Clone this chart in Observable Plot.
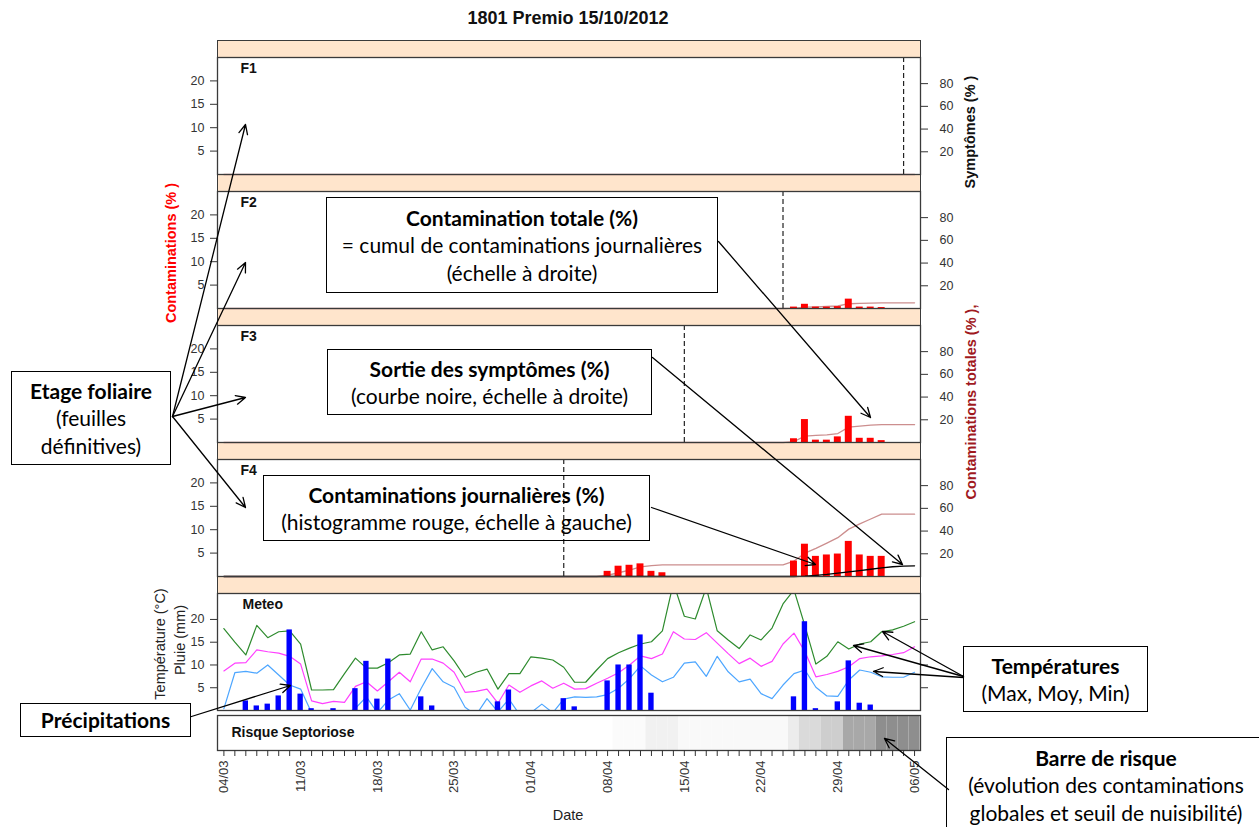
<!DOCTYPE html>
<html lang="fr">
<head>
<meta charset="utf-8">
<script src="https://cdn.jsdelivr.net/npm/d3@7"></script>
<script src="https://cdn.jsdelivr.net/npm/@observablehq/plot@0.6"></script>
<style>
html,body{margin:0;padding:0;background:#fff;}
#root{position:relative;width:1259px;height:827px;overflow:hidden;font-family:"Liberation Sans",Arial,sans-serif;color:#222;}
.pl{position:absolute;left:0;}
.strip{position:absolute;left:217px;width:704px;height:18px;background:#ffe5cc;border:1.3px solid #3a3a3a;box-sizing:border-box;}
.vlab{position:absolute;white-space:nowrap;transform:translate(-50%,-50%) rotate(-90deg);font-size:14.5px;}
.box{position:absolute;border:1.5px solid #000;box-sizing:border-box;display:flex;flex-direction:column;justify-content:center;align-items:center;font-family:Lato,"Open Sans",sans-serif;font-size:21px;line-height:27.5px;color:#000;text-align:center;white-space:nowrap;}
</style>
</head>
<body>
<div id="root"></div>
<script>
// ---------------- DATA ----------------
const title = "1801 Premio 15/10/2012";
const firstDay = "2012-03-04";
const lastDayExclusive = "2012-05-07";
const panelNames = ["F1", "F2", "F3", "F4"];
const leafDates = ["2012-05-05", "2012-04-24", "2012-04-15", "2012-04-04"];

// daily contaminations (%), one value per day from 04/03 to 06/05
const contF1 = [
  0,0,0,0, 0,0,0,0, 0,0,0,0, 0,0,0,0,
  0,0,0,0, 0,0,0,0, 0,0,0,0, 0,0,0,0,
  0,0,0,0, 0,0,0,0, 0,0,0,0, 0,0,0,0,
  0,0,0,0, 0,0,0,0, 0,0,0,0, 0,0,0,0];
const contF2 = [
  0,0,0,0, 0,0,0,0, 0,0,0,0, 0,0,0,0,
  0,0,0,0, 0,0,0,0, 0,0,0,0, 0,0,0,0,
  0,0,0,0, 0,0,0,0, 0,0,0,0, 0,0,0,0,
  0,0,0,0, 0.3,0.9,0.3,0.3, 0.4,2.0,0.3,0.3, 0.2,0,0,0];
const contF3 = [
  0,0,0,0, 0,0,0,0, 0,0,0,0, 0,0,0,0,
  0,0,0,0, 0,0,0,0, 0,0,0,0, 0,0,0,0,
  0,0,0,0, 0,0,0,0, 0,0,0,0, 0,0,0,0,
  0,0,0,0, 0.8,4.9,0.5,0.5, 1.2,5.6,0.9,0.9, 0.4,0,0,0];
const contF4 = [
  0,0,0,0, 0,0,0,0, 0,0,0,0, 0,0,0,0,
  0,0,0,0, 0,0,0,0, 0,0,0,0, 0,0,0,0,
  0,0,0,1.1, 2.2,2.4,2.7,1.1, 0.8,0,0,0, 0,0,0,0,
  0,0,0,0, 3.3,6.9,4.3,4.6, 4.8,7.5,4.6,4.3, 4.3,0,0,0];

// symptoms (%) — black curve, right scale (only F4 shows one)
const symptF1 = [];
const symptF2 = [];
const symptF3 = [];
const symptF4 = [
  0,0,0,0, 0,0,0,0, 0,0,0,0, 0,0,0,0,
  0,0,0,0, 0,0,0,0, 0,0,0,0, 0,0,0,0,
  0,0,0,0, 0,0,0,0, 0,0,0,0, 0,0,0,0,
  0,0,0,0, 0,0.3,1.0,1.8, 2.9,4.0,5.2,6.4, 7.6,8.6,9.2,9.4];

// meteo
const tmax = [
  18.0,15.0,12.2,18.7, 16.0,17.3,17.5,14.6, 4.5,4.5,4.6,8.1, 11.5,9.3,9.3,10.5,
  12.2,12.4,17.3,13.3, 14.0,10.9,7.3,8.4, 9.1,4.7,8.1,8.1, 11.8,11.5,11.1,9.5,
  6.2,6.2,8.9,11.4, 12.7,13.7,14.6,15.1, 17.5,28.0,20.7,20.1, 27.0,17.5,15.5,13.6,
  16.6,15.5,18.1,23.4, 26.5,18.6,10.2,11.9, 15.1,13.5,14.6,15.1, 17.3,17.7,18.5,19.5];
const tmoy = [
  8.7,10.4,10.5,13.3, 12.9,12.6,11.9,10.2, 2.1,1.5,2.0,1.8, 5.3,6.3,4.3,6.3,
  8.4,6.3,11.3,11.3, 10.4,8.4,4.0,4.2, 4.7,1.6,5.6,4.0, 5.4,6.5,4.9,6.0,
  4.7,4.8,6.0,7.1, 8.3,10.0,12.0,11.4, 12.4,17.3,15.7,15.6, 17.1,14.8,12.5,10.3,
  11.5,9.7,10.8,14.6, 17.0,12.9,7.4,7.9, 8.6,9.6,11.4,11.8, 12.0,12.3,12.7,14.0];
const tmin = [
  0.4,8.3,8.6,8.2, 10.0,7.8,5.6,4.7, -0.5,-2.0,-1.5,-1.0, 0.5,3.0,-0.5,2.3,
  3.7,0.1,4.9,9.2, 6.3,5.1,0.7,-1.0, 2.6,-0.3,2.5,-1.0, -0.5,1.4,-0.5,2.5,
  3.0,2.9,3.0,3.5, 4.9,7.0,9.8,7.8, 6.3,7.3,10.4,10.7, 7.5,11.9,8.5,6.3,
  6.9,3.7,2.6,5.6, 8.1,8.9,5.1,3.2, 3.1,6.7,8.9,8.4, 7.4,7.3,7.3,8.4];
const pluie = [
  0,0,2.1,1.0, 1.4,3.2,17.7,3.6, 0.4,0,0.4,0, 4.8,10.8,2.5,11.3,
  0,0,3.0,1.0, 0,0,0,0, 0,1.9,4.5,0, 0,0,0,2.6,
  0.8,0,0,6.5, 10.0,10.0,16.6,3.8, 0,0,0,0, 0,0,0,0,
  0,0,0,0, 3.0,19.5,0.4,0, 1.9,10.9,1.6,1.2, 0,0,0,0];
// risk bar intensity (0 = none, 1 = max)
const risque = [
  0,0,0,0, 0,0,0,0, 0,0,0,0, 0,0,0,0,
  0,0,0,0, 0,0,0,0, 0,0,0,0, 0,0,0,0,
  0,0,0,0, 0.03,0.03,0.03,0.12, 0.12,0.12,0.05,0.05, 0.05,0.05,0.05,0.05,
  0.05,0.05,0.05,0.05, 0.16,0.32,0.32,0.42, 0.42,0.74,0.74,0.74, 0.97,0.97,0.97,0.97];

// ticks
const leftTicks = [5, 10, 15, 20];
const rightTicks = [20, 40, 60, 80];
const meteoTicks = [5, 10, 15, 20];
const dateLabels = ["2012-03-04","2012-03-11","2012-03-18","2012-03-25","2012-04-01",
                    "2012-04-08","2012-04-15","2012-04-22","2012-04-29","2012-05-06"];

// annotations (PowerPoint overlay)
const boxes = [
  {x:326, y:197, w:392, h:96, lines:[["b","Contamination totale (%)"],["","= cumul de contaminations journalières"],["","(échelle à droite)"]]},
  {x:327, y:349, w:325, h:66, lines:[["b","Sortie des symptômes (%)"],["","(courbe noire, échelle à droite)"]]},
  {x:263, y:475, w:387, h:66, lines:[["b","Contaminations journalières (%)"],["","(histogramme rouge, échelle à gauche)"]]},
  {x:11,  y:371, w:160, h:94, lines:[["b","Etage foliaire"],["","(feuilles"],["","définitives)"]]},
  {x:20,  y:703, w:171, h:34, lines:[["b","Précipitations"]]},
  {x:963, y:646, w:185, h:66, lines:[["b","Températures"],["","(Max, Moy, Min)"]]},
  {x:946, y:737, w:320, h:96, lines:[["b","Barre de risque"],["","(évolution des contaminations"],["","globales et seuil de nuisibilité)"]]}
];
const arrows = [
  {x1:172, y1:416, x2:245, y2:124},
  {x1:172, y1:416, x2:245, y2:262},
  {x1:172, y1:416, x2:245, y2:397},
  {x1:172, y1:416, x2:245, y2:507},
  {x1:718, y1:241, x2:870, y2:417},
  {x1:652, y1:357, x2:902, y2:564},
  {x1:651, y1:507, x2:815, y2:564},
  {x1:191, y1:716, x2:290, y2:685},
  {x1:963, y1:676, x2:882, y2:631},
  {x1:963, y1:676, x2:853, y2:645},
  {x1:963, y1:677, x2:873, y2:671},
  {x1:948, y1:789, x2:884, y2:738}
];

// ---------------- LAYOUT ----------------
const root = document.getElementById("root");
const W = 1259, FL = 217, FR = 920;
const R = 4.12;                       // right-axis / left-axis ratio
const HALF = 12 * 3600e3;
const days = d3.utcDay.range(new Date(firstDay), new Date(lastDayExclusive));
const xOpt = {type: "utc", domain: [new Date("2012-03-03T10:00Z"), new Date("2012-05-06T13:00Z")]};
const baseStyle = {overflow: "visible", fontFamily: "'Liberation Sans', Arial, sans-serif", fontSize: "12.5px", color: "#333", background: "transparent"};
const conts = [contF1, contF2, contF3, contF4];
const sympts = [symptF1, symptF2, symptF3, symptF4];
const stripTops = [40, 174, 308, 442, 576];
const panelTops = [57, 191, 325, 459, 593];
const PH = 117;

function place(node, top) { node.classList.add("pl"); node.style.top = top + "px"; root.appendChild(node); }
function div(cls, css, html) { const d = document.createElement("div"); if (cls) d.className = cls; d.style.cssText = css; if (html != null) d.innerHTML = html; root.appendChild(d); return d; }

// title
div("", "position:absolute;left:0;width:1136px;top:8px;text-align:center;font-weight:bold;font-size:18px;color:#111;", title);

// strips
stripTops.forEach(t => div("strip", `top:${t}px;`));

// leaf panels
panelNames.forEach((name, i) => {
  const cont = conts[i], cum = d3.cumsum(cont);
  const rows = days.map((date, k) => ({date, cont: cont[k], cum: cum[k]}));
  const srows = sympts[i].map((v, k) => ({date: days[k], v}));
  const p = Plot.plot({
    width: W, height: PH, marginLeft: FL, marginRight: W - FR, marginTop: 0, marginBottom: 0,
    x: {...xOpt, axis: null}, y: {domain: [0, 25]},
    style: baseStyle,
    marks: [
      Plot.line(rows, {x: "date", y: d => d.cum / R, stroke: "#cc8e8e", strokeWidth: 1.3}),
      Plot.rect(rows.filter(d => d.cont > 0), {x1: d => new Date(+d.date - HALF), x2: d => new Date(+d.date + HALF), y1: 0, y2: "cont", fill: "#ff0000", insetLeft: 2, insetRight: 2}),
      Plot.line(srows, {x: "date", y: d => d.v / R, stroke: "#000", strokeWidth: 1.3}),
      Plot.ruleX([new Date(leafDates[i])], {x: d => d, stroke: "#222", strokeWidth: 1.2, strokeDasharray: "5,3"}),
      Plot.text([name], {frameAnchor: "top-left", dx: 23, dy: 6, fontWeight: "bold", fontSize: 14, fill: "#111"}),
      Plot.axisY(leftTicks, {anchor: "left", tickSize: 7, tickPadding: 6, label: null}),
      Plot.axisY(rightTicks.map(v => v / R), {anchor: "right", tickSize: 7, tickPadding: 12, tickFormat: v => Math.round(v * R), label: null}),
      Plot.frame({stroke: "#3a3a3a", strokeWidth: 1.3})
    ]
  });
  place(p, panelTops[i]);
});

// meteo panel
{
  const rows = days.map((date, k) => ({date, tmax: tmax[k], tmoy: tmoy[k], tmin: tmin[k], pluie: pluie[k]}));
  const p = Plot.plot({
    width: W, height: PH, marginLeft: FL, marginRight: W - FR, marginTop: 0, marginBottom: 0,
    x: {...xOpt, axis: null}, y: {domain: [0, 25.7]},
    style: baseStyle,
    marks: [
      Plot.line(rows, {x: "date", y: "tmax", stroke: "#2e8b2e", strokeWidth: 1.2, clip: true}),
      Plot.line(rows, {x: "date", y: "tmoy", stroke: "#ff40ff", strokeWidth: 1.2, clip: true}),
      Plot.line(rows, {x: "date", y: "tmin", stroke: "#4da6ff", strokeWidth: 1.2, clip: true}),
      Plot.rect(rows.filter(d => d.pluie > 0), {x1: d => new Date(+d.date - HALF), x2: d => new Date(+d.date + HALF), y1: 0, y2: "pluie", fill: "#0000ff", insetLeft: 2.8, insetRight: 2.8, clip: true}),
      Plot.text(["Meteo"], {frameAnchor: "top-left", dx: 25, dy: 6, fontWeight: "bold", fontSize: 14, fill: "#111"}),
      Plot.axisY(meteoTicks, {anchor: "left", tickSize: 7, tickPadding: 6, label: null}),
      Plot.axisY(meteoTicks, {anchor: "right", tickSize: 7, tickFormat: () => "", label: null}),
      Plot.frame({stroke: "#3a3a3a", strokeWidth: 1.3})
    ]
  });
  place(p, panelTops[4]);
}

// risk bar
{
  const rows = days.map((date, k) => ({date, risk: risque[k]}));
  const p = Plot.plot({
    width: W, height: 35 + 77, marginLeft: FL, marginRight: W - FR, marginTop: 0, marginBottom: 77,
    x: xOpt,
    color: {type: "linear", domain: [0, 1], range: ["#ffffff", "#8a8a8a"]},
    style: baseStyle,
    marks: [
      Plot.rect(rows, {x1: d => new Date(+d.date - HALF), x2: d => new Date(+d.date + HALF), fill: "risk"}),
      Plot.text(["Risque Septoriose"], {frameAnchor: "left", dx: 14, fontWeight: "bold", fontSize: 14, fill: "#111", fontFamily: "'Liberation Sans Narrow', 'Liberation Sans', Arial"}),
      Plot.frame({stroke: "#3a3a3a", strokeWidth: 1.3}),
      Plot.axisX(days, {tickSize: 6, tickFormat: () => "", label: null}),
      Plot.axisX(dateLabels.map(s => new Date(s)), {tickSize: 0, tickPadding: 10, tickRotate: -90, tickFormat: d3.utcFormat("%d/%m"), label: null, fontSize: 13})
    ]
  });
  place(p, 715);
}
div("", "position:absolute;left:468px;width:200px;top:807px;text-align:center;font-size:14.5px;color:#222;", "Date");

// axis titles
div("vlab", "left:171px;top:253px;color:#ff0000;font-weight:bold;", "Contaminations (% )");
div("vlab", "left:970px;top:132px;color:#111;font-weight:bold;", "Symptômes (% )");
div("vlab", "left:971px;top:402px;color:#a0191e;font-weight:bold;", "Contaminations totales (% ),");
div("vlab", "left:160px;top:644px;color:#222;", "Température (°C)");
div("vlab", "left:180px;top:640px;color:#222;", "Pluie (mm)");

// annotation boxes
boxes.forEach(b => {
  const html = b.lines.map(([w, t]) => `<div style="font-weight:${w === "b" ? "bold" : "normal"}">${t}</div>`).join("");
  div("box", `left:${b.x}px;top:${b.y}px;width:${b.w}px;height:${b.h}px;`, html);
});

// arrows overlay
{
  const p = Plot.plot({
    width: W, height: 827, margin: 0,
    x: {type: "identity", axis: null}, y: {type: "identity", axis: null},
    style: {...baseStyle, pointerEvents: "none"},
    marks: [Plot.arrow(arrows, {x1: "x1", y1: "y1", x2: "x2", y2: "y2", stroke: "#000", strokeWidth: 1.3, headLength: 12, headAngle: 50})]
  });
  place(p, 0);
}
</script>
</body>
</html>
